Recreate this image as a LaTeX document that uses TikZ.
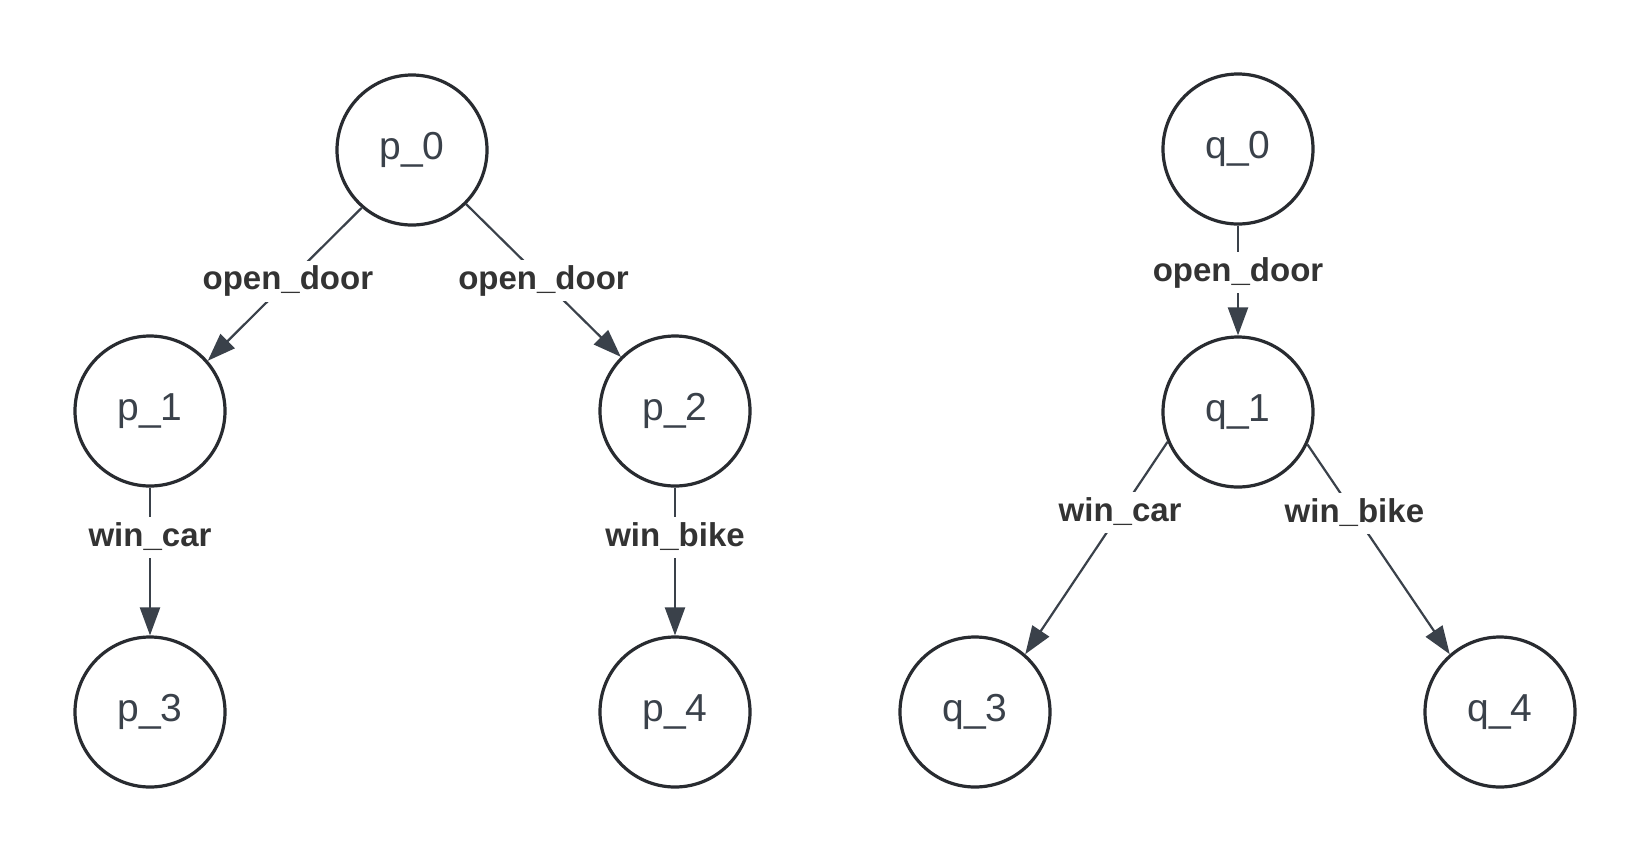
\documentclass[tikz,border=0pt]{standalone}
\usepackage{fontspec}
\setmainfont{Liberation Sans}
\usetikzlibrary{arrows.meta}
\definecolor{circ}{HTML}{282B30}
\definecolor{ntext}{HTML}{3A414A}
\definecolor{ltext}{HTML}{333333}
\definecolor{edgec}{HTML}{3A414A}
\begin{document}
\begin{tikzpicture}[x=1pt,y=-1pt,
 state/.style={circle, draw=circ, line width=3.2pt, minimum size=150pt, inner sep=0pt, text=ntext, font=\fontsize{39}{46}\selectfont},
 trans/.style={draw=edgec, line width=2.2pt, -{Triangle[length=28pt,width=20pt]}},
 lab/.style={fill=white, text=ltext, font=\fontsize{33}{40}\selectfont\bfseries, inner xsep=4pt, inner ysep=5pt, text height=24pt, text depth=7pt}]
\useasboundingbox[fill=white] (0,0) rectangle (1650,863);
\node[state] (p0) at (412,150) {p\_0};
\node[state] (p1) at (150,411) {p\_1};
\node[state] (p2) at (675,411) {p\_2};
\node[state] (p3) at (150,712) {p\_3};
\node[state] (p4) at (675,712) {p\_4};
\node[state] (q0) at (1238,149) {q\_0};
\node[state] (q1) at (1238,412) {q\_1};
\node[state] (q3) at (975,712) {q\_3};
\node[state] (q4) at (1500,712) {q\_4};
\draw[trans] (p0.229) -- node[lab, pos=0.48]{open\_door} (p1.41);
\draw[trans] (p0.315) -- node[lab, pos=0.5]{open\_door} (p2.135);
\draw[trans] (p1.south) -- node[lab, pos=0.34]{win\_car} (p3.north);
\draw[trans] (p2.south) -- node[lab, pos=0.34]{win\_bike} (p4.north);
\draw[trans] (q0.south) -- node[lab, pos=0.43]{open\_door} (q1.north);
\draw[trans] (q1.203) -- node[lab, pos=0.333]{win\_car} (q3.49);
\draw[trans] (q1.335) -- node[lab, pos=0.33]{win\_bike} (q4.131);
\end{tikzpicture}
\end{document}
